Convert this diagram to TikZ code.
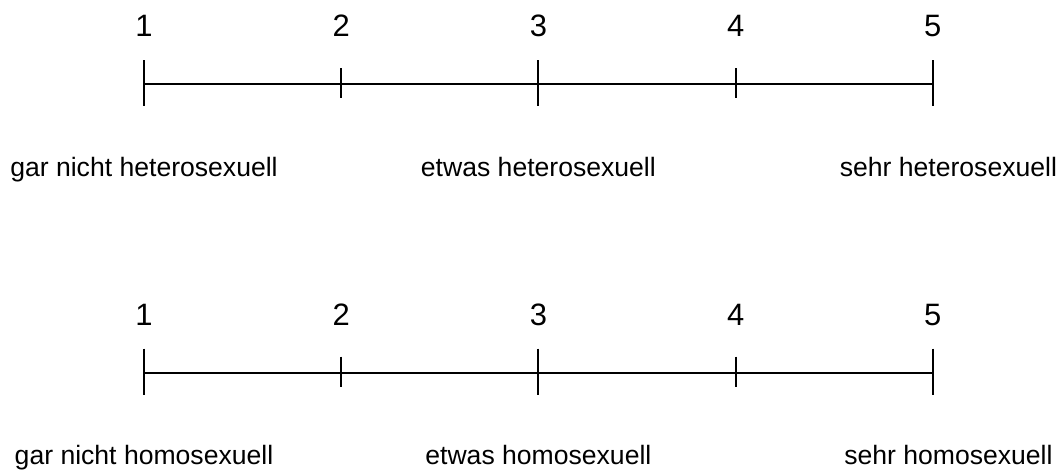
\documentclass[tikz,border=0pt]{standalone}
\usepackage{fontspec}
\setmainfont{Liberation Sans}
\usepackage{tikz}
\usetikzlibrary{positioning}

\begin{document}
\begin{tikzpicture}[x=0.025cm, y=-0.025cm, line width=1.3pt,
    lab/.style={font=\fontsize{18.9}{22}\selectfont, inner sep=0pt, anchor=base},
    num/.style={lab, font=\fontsize{22}{26}\selectfont}]
    \useasboundingbox (0,0) rectangle (1061,470);

    \foreach \row/\y/\adj in {a/84/heterosexuell, b/372.7/homosexuell} {
        % Punkte der Skala
        \foreach \i in {1,...,5} {
            \coordinate (\row\i) at ({144+(\i-1)*197.2},\y);
            \node[num] (n\row\i) at ([yshift=1.175cm]\row\i) {\i};
        }
        \draw (\row1) -- (\row5);

        % Striche
        \foreach \i in {1,3,5} {
            \draw ([yshift=0.6cm]\row\i) -- ([yshift=-0.55cm]\row\i);
        }
        \foreach \i in {2,4} {
            \draw ([yshift=0.4cm]\row\i) -- ([yshift=-0.35cm]\row\i);
        }

        % Beschriftung
        \node[lab] (l\row1) at ([yshift=-2.3cm]\row1) {gar nicht \adj};
        \node[lab] (l\row3) at ([yshift=-2.3cm]\row3) {etwas \adj};
        \node[lab] (l\row5) at ([yshift=-2.3cm, xshift=0.39cm]\row5) {sehr \adj};
    }
\end{tikzpicture}
\end{document}
